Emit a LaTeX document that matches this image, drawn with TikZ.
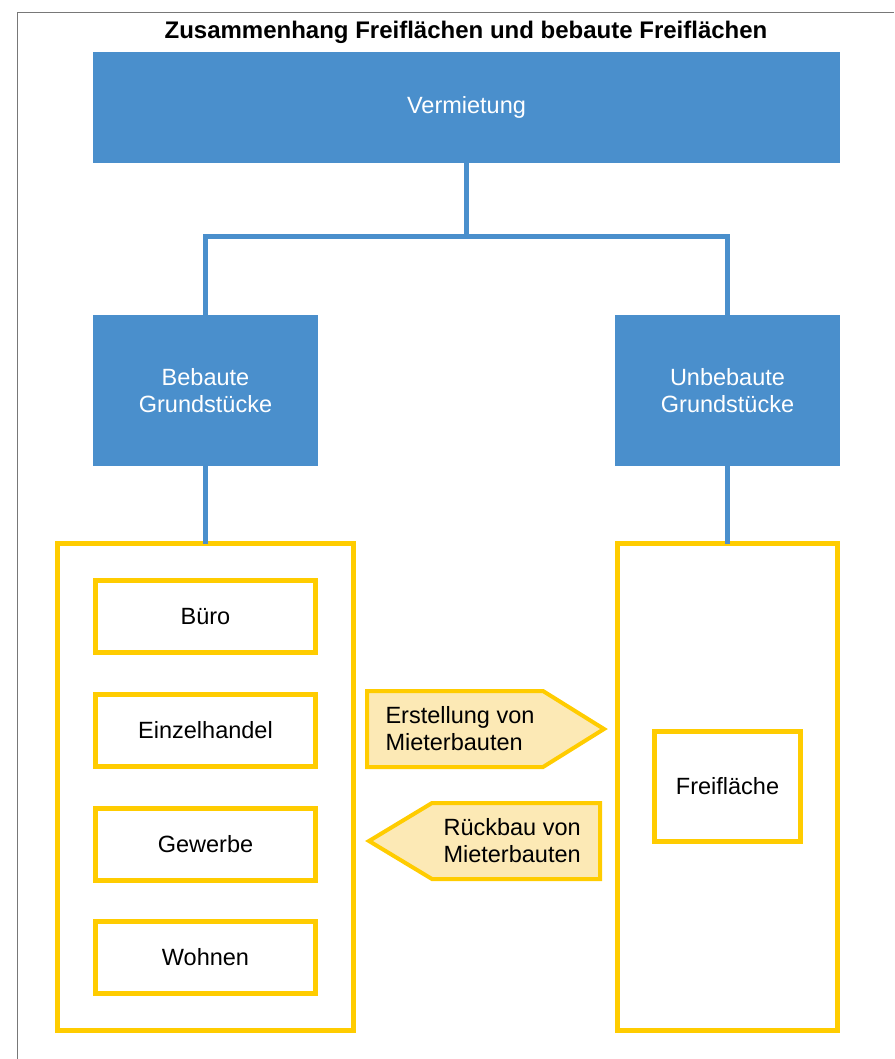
\documentclass[tikz,border=0pt]{standalone}
\usepackage{fontspec}
\setmainfont{Liberation Sans}
\definecolor{planblue}{RGB}{74,143,204}
\definecolor{planyellow}{RGB}{255,204,0}
\definecolor{planpale}{RGB}{252,233,181}
\definecolor{framegray}{RGB}{120,120,120}
\begin{document}
\begin{tikzpicture}[x=1pt,y=-1pt,
  every node/.style={font=\fontsize{23.5}{27}\selectfont},
  bluebox/.style={shape=rectangle,fill=planblue,text=white,align=center},
  yellowbox/.style={shape=rectangle,draw=planyellow,line width=5pt,fill=white},
  link/.style={draw=planblue,line width=5pt},
  arrowbox/.style={draw=planyellow,fill=planpale,line width=4pt,line join=miter}]
 \useasboundingbox (0,0) rectangle (894,1059);
 \draw[framegray,line width=1pt] (17.5,1059) -- (17.5,12.5) -- (894,12.5);

 \node[font=\bfseries\fontsize{24}{27}\selectfont] (title) at (466,32) {Zusammenhang Freiflächen und bebaute Freiflächen};

 \node[bluebox,minimum width=747pt,minimum height=111pt] (verm) at (466.5,107.5) {Vermietung};
 \node[bluebox,minimum width=225pt,minimum height=151pt] (bebaut) at (205.5,390.5) {Bebaute\\Grundstücke};
 \node[bluebox,minimum width=225pt,minimum height=151pt] (unbebaut) at (727.5,390.5) {Unbebaute\\Grundstücke};

 \node[yellowbox,minimum width=296pt,minimum height=487pt] (links) at (205.5,787) {};
 \node[yellowbox,minimum width=220pt,minimum height=487pt] (rechts) at (727.5,787) {};

 \node[yellowbox,minimum width=220pt,minimum height=72pt] (buero) at (205.5,616.5) {Büro};
 \node[yellowbox,minimum width=220pt,minimum height=72pt] (handel) at (205.5,730) {Einzelhandel};
 \node[yellowbox,minimum width=220pt,minimum height=72pt] (gewerbe) at (205.5,844) {Gewerbe};
 \node[yellowbox,minimum width=220pt,minimum height=72pt] (wohnen) at (205.5,957) {Wohnen};
 \node[yellowbox,minimum width=146pt,minimum height=110pt] (frei) at (727.5,786.5) {Freifläche};

 \coordinate (split) at (466.5,237);
 \draw[link] (verm.south) -- (split);
 \draw[link] (bebaut.north) |- (split) -| (unbebaut.north);
 \draw[link] (bebaut.south) -- ([yshift=-2.5pt]links.north);
 \draw[link] (unbebaut.south) -- ([yshift=-2.5pt]rechts.north);

 \draw[arrowbox] (367,691) -- (543,691) -- (604,729) -- (543,767) -- (367,767) -- cycle;
 \node[align=left,anchor=west] (erstellung) at (382,729) {Erstellung von\\Mieterbauten};
 \draw[arrowbox] (600,803) -- (432,803) -- (369,841) -- (432,879) -- (600,879) -- cycle;
 \node[align=left,anchor=west] (rueckbau) at (440,841) {Rückbau von\\Mieterbauten};
\end{tikzpicture}
\end{document}
